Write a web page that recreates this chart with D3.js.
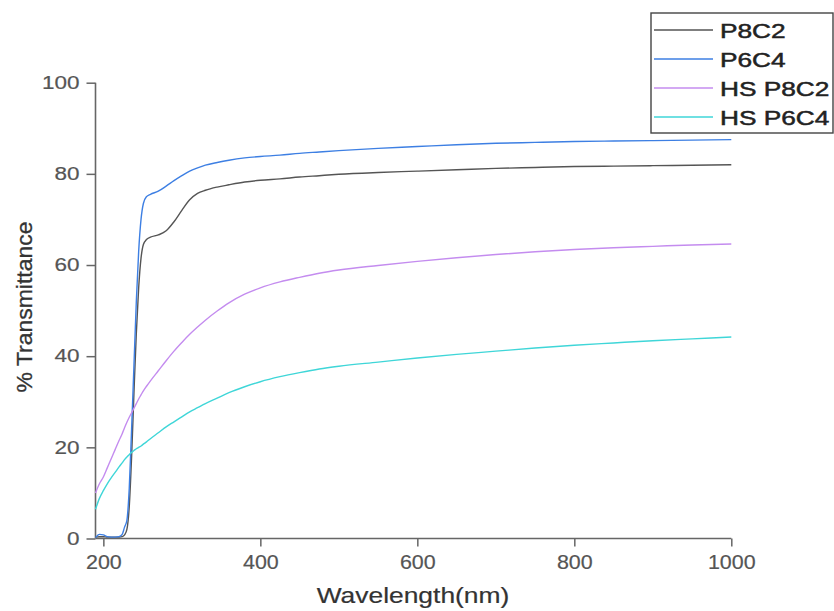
<!DOCTYPE html>
<html><head><meta charset="utf-8">
<script src="https://cdn.jsdelivr.net/npm/d3@7"></script>
<style>body{margin:0;background:#fff}svg{display:block}text{font-family:"Liberation Sans",Arial,sans-serif}</style>
</head><body><svg id="c" width="834" height="611"></svg>
<script>
const wavelengths=[190,195,200,205,210,215,220,224,227,230,233,236,239,242,245,248,251,255,260,270,280,290,300,310,320,330,345,360,380,400,425,450,475,500,550,600,650,700,750,800,850,900,950,1000];
const p8c2=[0.3,0.4,0.4,0.3,0.3,0.3,0.3,0.4,0.8,2,7,18,32,45,55,61.5,64.5,65.6,66.1,66.6,67.5,69.5,72,74.3,75.7,76.4,77.1,77.6,78.2,78.6,78.9,79.3,79.6,79.9,80.3,80.6,80.9,81.2,81.4,81.6,81.7,81.8,81.9,82.0];
const p6c4=[0.2,0.9,0.8,0.4,0.3,0.3,0.4,0.9,2.5,4,11,24,38,52,63,70,73.5,75,75.5,76.2,77.3,78.5,79.6,80.6,81.3,81.9,82.5,83,83.5,83.8,84.1,84.5,84.8,85.1,85.6,86,86.4,86.7,86.9,87.1,87.2,87.3,87.4,87.5];
const hsP8c2=[10,12,13.5,15.5,17.5,19.5,21.5,23,24.3,25.5,26.6,27.6,28.6,29.6,30.6,31.5,32.4,33.4,34.6,36.8,39,41.1,43,44.8,46.4,47.9,49.9,51.7,53.6,55,56.3,57.3,58.2,58.9,59.9,60.8,61.6,62.3,62.9,63.4,63.8,64.1,64.4,64.6];
const hsP6c4=[6.4,8.8,10.5,12,13.3,14.5,15.7,16.6,17.3,17.9,18.4,18.9,19.3,19.7,20,20.3,20.7,21.2,21.9,23.2,24.5,25.6,26.7,27.8,28.7,29.6,30.8,32,33.3,34.4,35.5,36.4,37.2,37.8,38.7,39.6,40.4,41.1,41.8,42.4,42.9,43.4,43.8,44.2];
const seriesNames=["P8C2","P6C4","HS P8C2","HS P6C4"];
const seriesValues=[p8c2,p6c4,hsP8c2,hsP6c4];
const seriesColors=["#555555","#3d7fe3","#c48cef","#3fd6d8"];
const xMajorTicks=[200,400,600,800,1000];
const xMinorTicks=[300,500,700,900];
const yMajorTicks=[0,20,40,60,80,100];
const yMinorTicks=[10,30,50,70,90];

const svg=d3.select("#c");
const x=d3.scaleLinear().domain([190,1000]).range([95.5,731.3]);
const y=d3.scaleLinear().domain([0,100]).range([538.5,82.7]);
const axisColor="#666";

function stretch(sel,f){sel.each(function(){const L=this.getComputedTextLength();d3.select(this).attr("textLength",L*f).attr("lengthAdjust","spacingAndGlyphs");});}

// X axis
const gx=svg.append("g").attr("transform",`translate(0,${y(0)})`);
gx.call(d3.axisBottom(x).tickValues(xMinorTicks).tickSize(4).tickFormat(""));
gx.call(d3.axisBottom(x).tickValues(xMajorTicks).tickSize(8).tickPadding(9).tickFormat(d3.format("d")));
gx.selectAll("path,line").attr("stroke",axisColor).attr("stroke-width",1.5);
gx.selectAll(".domain").remove();
gx.append("line").attr("x1",x(190)).attr("x2",x(1000)).attr("stroke",axisColor).attr("stroke-width",1.6);
gx.selectAll("text").attr("font-size",19.5).attr("fill","#555").attr("stroke","#555").attr("stroke-width",0.2).attr("font-family","Liberation Sans, Arial, sans-serif").call(stretch,1.1);

// Y axis
const gy=svg.append("g").attr("transform",`translate(${x(190)},0)`);
gy.call(d3.axisLeft(y).tickValues(yMinorTicks).tickSize(5).tickFormat(""));
gy.call(d3.axisLeft(y).tickValues(yMajorTicks).tickSize(9).tickPadding(7).tickFormat(d3.format("d")));
gy.selectAll("path,line").attr("stroke",axisColor).attr("stroke-width",1.5);
gy.selectAll(".domain").remove();
gy.append("line").attr("y1",y(0)).attr("y2",y(100)).attr("stroke",axisColor).attr("stroke-width",1.6);
gy.selectAll("text").attr("font-size",18).attr("fill","#555").attr("stroke","#555").attr("stroke-width",0.2).attr("font-family","Liberation Sans, Arial, sans-serif").call(stretch,1.25);

// Lines
const line=d3.line().x((d,i)=>x(wavelengths[i])).y(d=>y(d)).curve(d3.curveMonotoneX);
seriesValues.forEach((vals,k)=>{
  svg.append("path").datum(vals).attr("fill","none").attr("stroke",seriesColors[k]).attr("stroke-width",1.4).attr("d",line);
});

// Titles
svg.append("text").attr("x",413).attr("y",603).attr("text-anchor","middle").attr("font-size",22).attr("fill","#333").attr("stroke","#333").attr("stroke-width",0.2).text("Wavelength(nm)").call(stretch,1.2);
svg.append("text").attr("transform","translate(32,307) rotate(-90)").attr("text-anchor","middle").attr("font-size",22).attr("fill","#333").attr("stroke","#333").attr("stroke-width",0.3).text("% Transmittance").each(function(){d3.select(this).attr("textLength",171).attr("lengthAdjust","spacingAndGlyphs");});

// Legend
const lg=svg.append("g");
lg.append("rect").attr("x",651).attr("y",13).attr("width",182).attr("height",120).attr("fill","#fff").attr("stroke","#444").attr("stroke-width",1.4);
const rowY=[30,59,88,117];
seriesNames.forEach((n,k)=>{
  lg.append("line").attr("x1",654).attr("x2",713).attr("y1",rowY[k]).attr("y2",rowY[k]).attr("stroke",seriesColors[k]).attr("stroke-width",1.5);
  lg.append("text").attr("x",720).attr("y",rowY[k]+7.5).attr("font-size",21).attr("fill","#222").attr("stroke","#222").attr("stroke-width",0.5).text(n).call(stretch,1.25);
});
</script></body></html>
